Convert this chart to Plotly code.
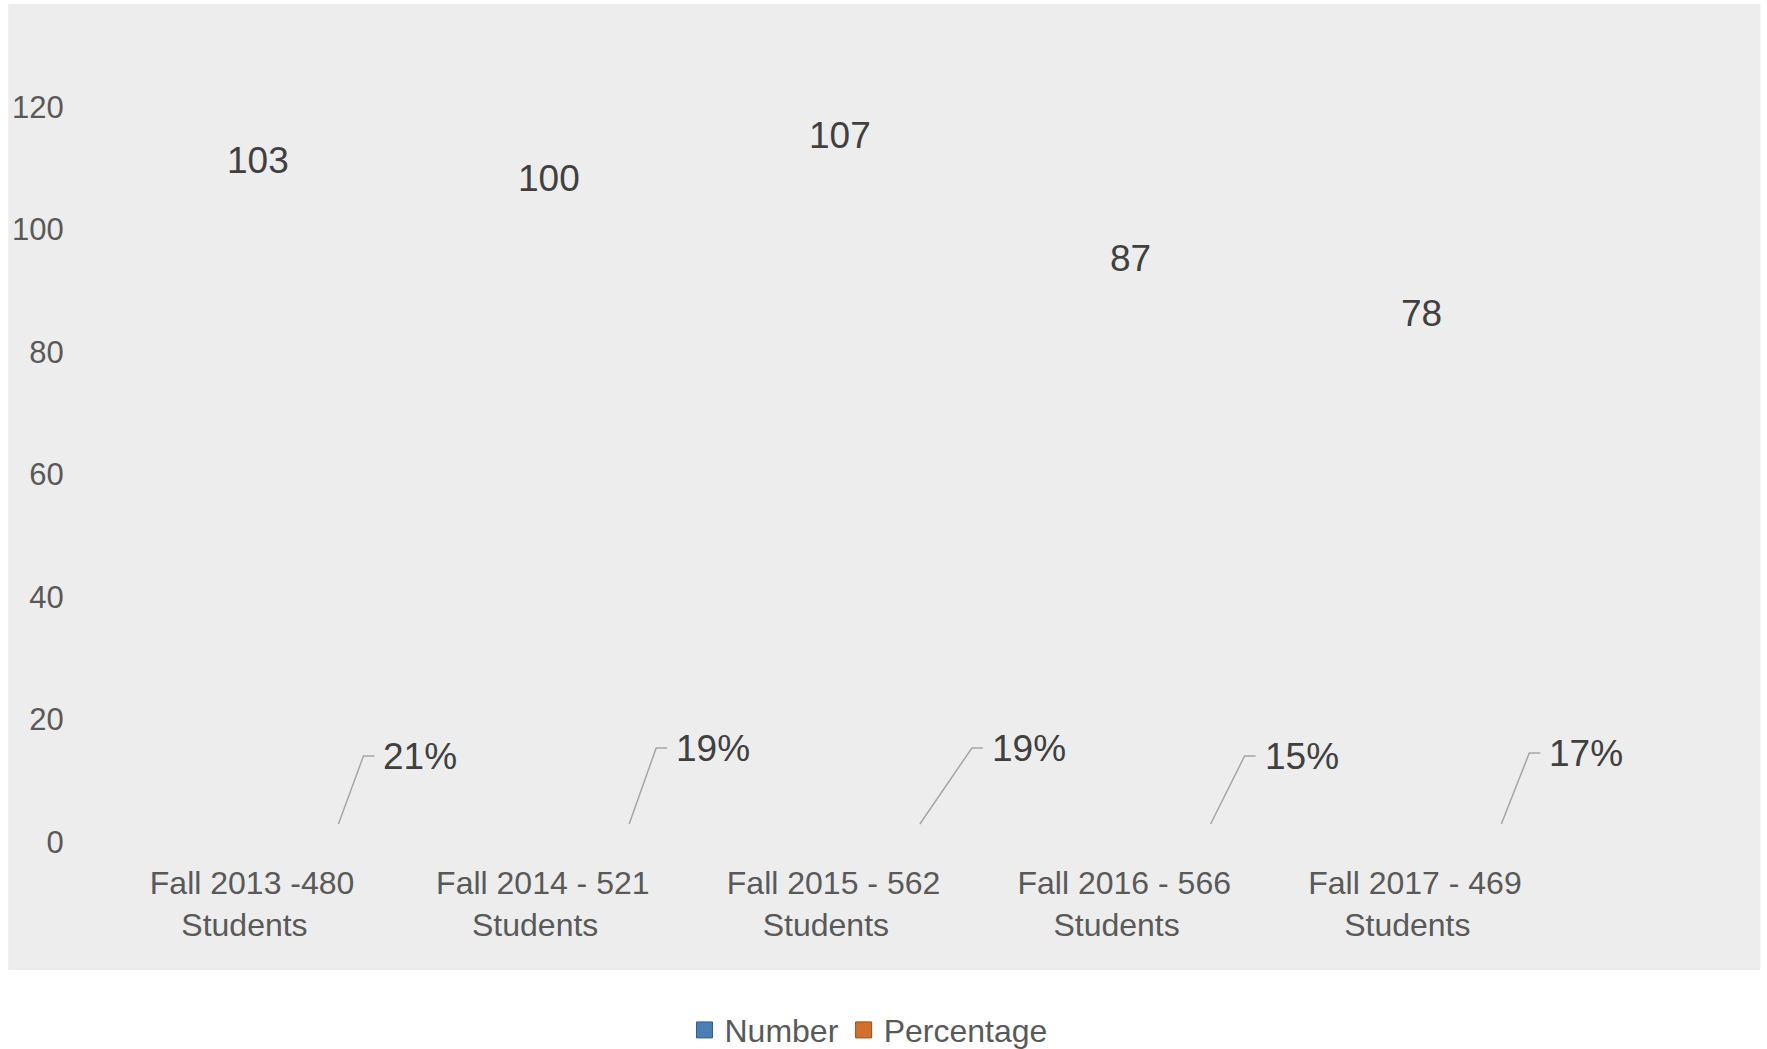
import plotly.graph_objects as go

# ---- data ----
categories = ["Fall 2013 -480", "Fall 2014 - 521", "Fall 2015 - 562",
              "Fall 2016 - 566", "Fall 2017 - 469"]
category_suffix = "Students"
numbers = [103, 100, 107, 87, 78]
percentages = [0.21, 0.19, 0.19, 0.15, 0.17]
y_ticks = [0, 20, 40, 60, 80, 100, 120]

# ---- label layout (pixel offsets of the Excel-style callouts) ----
leader_top_dx = [119, 121, 146, 128, 122]
leader_top_rise = [86, 94, 94, 86, 89]
leader_bottom_dx = 94
leader_bottom_rise = 18

W, H = 1767, 1049
L, R, T, B = 80, 1560, 15, 842
first_center = 240
px_per_x = 291.7
x_lo = -(first_center - L) / px_per_x
x_hi = x_lo + (R - L) / px_per_x
y_hi = (B - T) / 6.125

FONT = "Liberation Sans, Arial, sans-serif"
TICK_C = "#595959"
LBL_C = "#404040"

fig = go.Figure()

idx = list(range(len(categories)))
tick_text = [f"&nbsp;\u2009{c}<br>{category_suffix}" for c in categories]

# legend entries (bars are not rendered in the reference)
fig.add_trace(go.Scatter(x=[None], y=[None], mode="markers", name="Number",
                         marker=dict(symbol="square", size=16, color="#4A7FB5",
                                     line=dict(color="#2F5B86", width=1))))
fig.add_trace(go.Scatter(x=[None], y=[None], mode="markers", name="Percentage",
                         marker=dict(symbol="square", size=16, color="#D0702C",
                                     line=dict(color="#9C4A16", width=1))))

shapes = [dict(type="rect", xref="paper", yref="paper",
               x0=(3 - L) / (R - L), x1=(1761 - L) / (R - L),
               y0=(B - 970) / (B - T), y1=(B - 4) / (B - T),
               fillcolor="#EDEDED", line=dict(width=0), layer="below")]
annotations = []

for i, v in zip(idx, numbers):
    annotations.append(dict(x=i, y=v, xref="x", yref="y", text=str(v),
                            showarrow=False, xshift=14, yshift=51,
                            font=dict(family=FONT, size=37, color=LBL_C)))

for i, p in zip(idx, percentages):
    tdx = leader_top_dx[i]
    tr = leader_top_rise[i]
    shapes.append(dict(type="path", xref="x", yref="y",
                       xsizemode="pixel", ysizemode="pixel",
                       xanchor=i, yanchor=0,
                       path=f"M{leader_bottom_dx},{leader_bottom_rise} L{tdx},{tr} L{tdx + 11},{tr}",
                       line=dict(color="#A6A6A6", width=1.5)))
    annotations.append(dict(x=i, y=0, xref="x", yref="y", text=f"{round(p * 100)}%",
                            showarrow=False, xanchor="left", yanchor="middle",
                            xshift=tdx + 18, yshift=tr,
                            font=dict(family=FONT, size=37, color=LBL_C)))

fig.update_layout(
    width=W, height=H,
    margin=dict(l=L, r=W - R, t=T, b=H - B),
    paper_bgcolor="white", plot_bgcolor="rgba(0,0,0,0)",
    font=dict(family=FONT, color=TICK_C),
    shapes=shapes, annotations=annotations,
    showlegend=True,
    legend=dict(orientation="h", xref="container", yref="container",
                x=0.4915, y=0.018, xanchor="center", yanchor="middle",
                font=dict(family=FONT, size=32, color=TICK_C),
                bgcolor="rgba(0,0,0,0)", itemwidth=30),
    xaxis=dict(range=[x_lo, x_hi], tickvals=idx, ticktext=tick_text,
               showgrid=False, zeroline=False, showline=False,
               ticks="outside", ticklen=13, tickcolor="rgba(0,0,0,0)",
               tickfont=dict(family=FONT, size=32, color=TICK_C)),
    yaxis=dict(range=[0, y_hi], tickvals=y_ticks,
               showgrid=False, zeroline=False, showline=False,
               ticks="outside", ticklen=14, tickcolor="rgba(0,0,0,0)",
               tickfont=dict(family=FONT, size=31, color=TICK_C)),
)

fig.write_html("out.html", config={"displayModeBar": False},
               post_script="document.body.style.margin='0';document.body.style.overflow='hidden';")
